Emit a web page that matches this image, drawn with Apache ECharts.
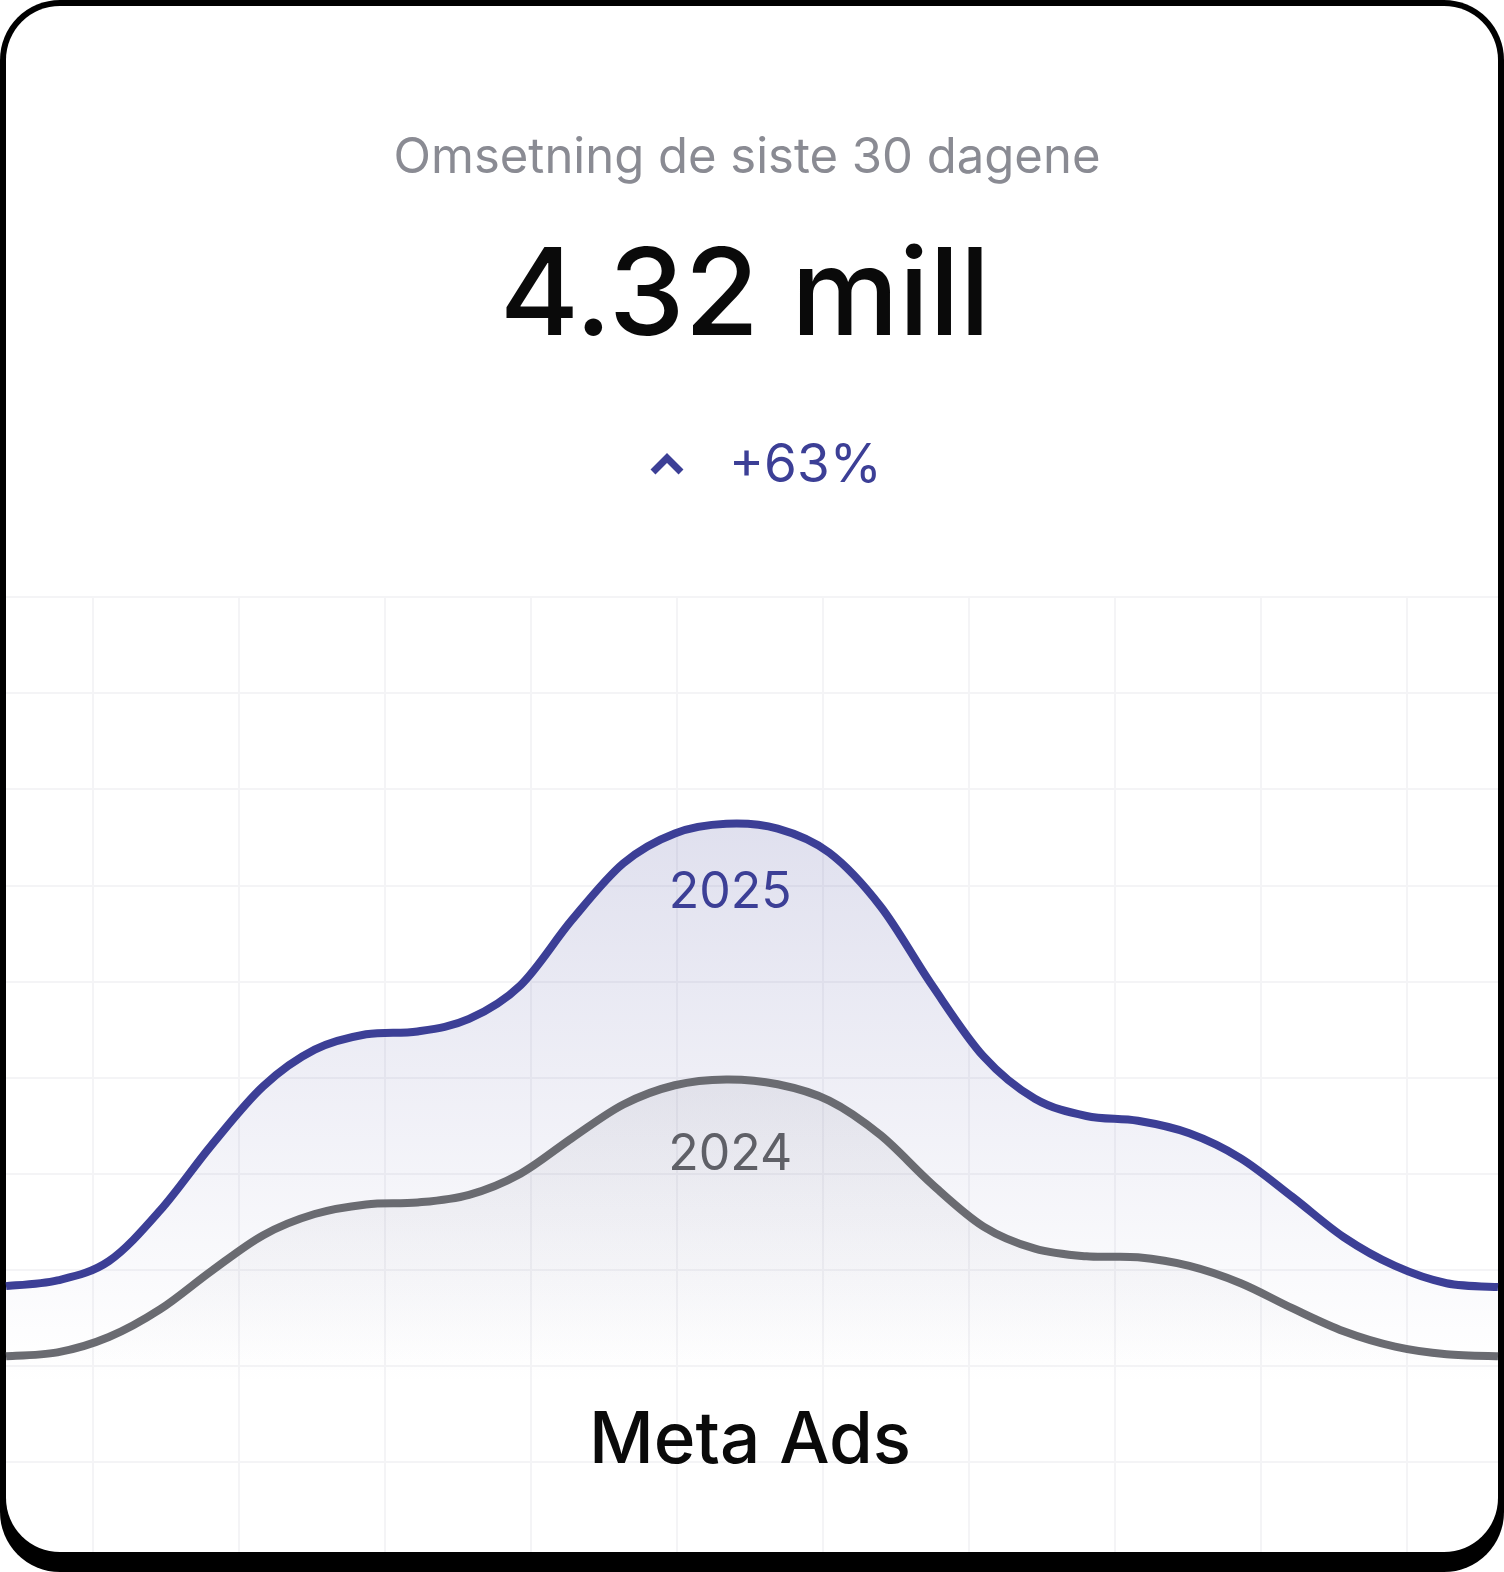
<!DOCTYPE html>
<html>
<head>
<meta charset="utf-8">
<script src="https://cdn.jsdelivr.net/npm/echarts@6/dist/echarts.min.js"></script>
<style>
  html, body { margin: 0; padding: 0; background: #fff; }
  #chart { width: 1504px; height: 1572px; }
</style>
</head>
<body>
<div id="chart"></div>
<script>
// last 30 days, one point per day
const days = Array.from({ length: 30 }, (_, i) => String(i + 1));

// revenue index per day
const sales2025 = [28.3, 28.9, 30.9, 36.2, 43.0, 49.1, 52.9, 54.5, 54.8, 56.1,
                   59.6, 66.4, 72.3, 75.4, 76.4, 75.9, 73.4, 67.8, 59.6, 52.2,
                   47.8, 46.0, 45.5, 44.2, 41.6, 37.6, 33.4, 30.4, 28.6, 28.2];
const sales2024 = [21.0, 21.4, 23.0, 25.9, 29.9, 33.6, 35.8, 36.8, 37.0, 37.8,
                   40.0, 43.7, 47.2, 49.2, 49.8, 49.3, 47.6, 44.0, 38.9, 34.5,
                   32.2, 31.4, 31.3, 30.4, 28.6, 26.0, 23.6, 22.0, 21.2, 21.0];

const seriesNames = ['2025', '2024'];
const peakIndex = 14;

const title = 'Omsetning de siste 30 dagene';
const total = '4.32 mill';
const change = '+63%';
const channel = 'Meta Ads';

const BLUE = '#3c3f96';
const GREY = '#6a6b71';
const FONT = 'Inter';
const Y_MIN = 10;

const chart = echarts.init(document.getElementById('chart'));

const hidden = { axisLine: { show: false }, axisTick: { show: false }, axisLabel: { show: false } };
const gridLine = { show: true, lineStyle: { color: '#f4f4f6', width: 2 } };

// catmull-rom through the projected points -> svg path
function curvePath(pts) {
  let d = 'M' + pts[0][0] + ',' + pts[0][1];
  for (let i = 0; i < pts.length - 1; i++) {
    const p0 = pts[Math.max(i - 1, 0)];
    const p1 = pts[i];
    const p2 = pts[i + 1];
    const p3 = pts[Math.min(i + 2, pts.length - 1)];
    const c1x = p1[0] + (p2[0] - p0[0]) / 6, c1y = p1[1] + (p2[1] - p0[1]) / 6;
    const c2x = p2[0] - (p3[0] - p1[0]) / 6, c2y = p2[1] - (p3[1] - p1[1]) / 6;
    d += ' C' + c1x + ',' + c1y + ' ' + c2x + ',' + c2y + ' ' + p2[0] + ',' + p2[1];
  }
  return d;
}

function curveSeries(name, values, color, labelColor, rgb, fillAlpha, fadeAt, labelDy, z) {
  return {
    name, type: 'custom', z,
    xAxisIndex: 0, yAxisIndex: 0,
    data: values.map((v, i) => [i, v]),
    encode: { x: 0, y: 1 },
    renderItem(params, api) {
      if (params.dataIndex !== 0) return;
      const pts = values.map((v, i) => api.coord([i, v]));
      const line = curvePath(pts);
      const base = api.coord([0, Y_MIN])[1];
      const last = pts[pts.length - 1];
      const area = line + ' L' + last[0] + ',' + base + ' L' + pts[0][0] + ',' + base + ' Z';
      const peak = pts[peakIndex];
      return {
        type: 'group',
        children: [
          { type: 'path', shape: { pathData: area },
            style: { fill: new echarts.graphic.LinearGradient(0, 0, 0, 1, [
              { offset: 0, color: 'rgba(' + rgb + ',' + fillAlpha + ')' },
              { offset: fadeAt, color: 'rgba(' + rgb + ',0)' }
            ]) } },
          { type: 'path', shape: { pathData: line },
            style: { fill: null, stroke: color, lineWidth: 8 } },
          { type: 'text', x: peak[0] + 4, y: peak[1] + labelDy,
            style: { text: name, fill: labelColor, font: '400 50px ' + FONT,
                     textAlign: 'center', textVerticalAlign: 'middle' } }
        ]
      };
    }
  };
}

const option = {
  animation: false,
  grid: [
    { left: 6, right: 6, top: 597, bottom: 110 },   // curves + horizontal lines
    { left: 93, right: 97, top: 597, bottom: 20 }   // vertical lines only
  ],
  xAxis: [
    { gridIndex: 0, type: 'category', data: days, boundaryGap: false, ...hidden, splitLine: { show: false } },
    { gridIndex: 1, type: 'value', min: 0, max: 9, interval: 1, ...hidden, splitLine: gridLine }
  ],
  yAxis: [
    { gridIndex: 0, type: 'value', min: Y_MIN, max: 100, interval: 10, ...hidden, splitLine: gridLine },
    { gridIndex: 1, type: 'value', min: 0, max: 1, ...hidden, splitLine: { show: false } }
  ],
  series: [
    curveSeries(seriesNames[0], sales2025, BLUE, BLUE, '60,62,150', 0.16, 0.85, 69, 3),
    curveSeries(seriesNames[1], sales2024, GREY, '#5f6067', '90,90,115', 0.09, 0.8, 75, 4)
  ],
  graphic: [
    // card frame
    { type: 'rect', z: -100, silent: true,
      shape: { x: 0, y: 0, width: 1504, height: 1572, r: 60 }, style: { fill: '#000' } },
    { type: 'rect', z: -99, silent: true,
      shape: { x: 6, y: 6, width: 1492, height: 1546, r: 54 }, style: { fill: '#fff' } },
    // headline texts
    { type: 'text', x: 747, y: 158, z: 10,
      style: { text: title, fill: '#8a8b93', font: '400 49px ' + FONT, textAlign: 'center', textVerticalAlign: 'middle' } },
    { type: 'text', x: 745, y: 299, z: 10,
      style: { text: total, fill: '#0a0a0a', font: '500 121px ' + FONT, textAlign: 'center', textVerticalAlign: 'middle' } },
    { type: 'polyline', z: 10,
      shape: { points: [[653, 472], [667, 458], [681, 472]] },
      style: { stroke: BLUE, lineWidth: 7, fill: null } },
    { type: 'text', x: 729, y: 466, z: 10,
      style: { text: change, fill: BLUE, font: '400 53px ' + FONT, textAlign: 'left', textVerticalAlign: 'middle' } },
    { type: 'text', x: 750, y: 1442, z: 10,
      style: { text: channel, fill: '#0a0a0a', font: '500 71px ' + FONT, textAlign: 'center', textVerticalAlign: 'middle' } }
  ]
};

chart.setOption(option);
window.addEventListener('resize', () => chart.resize());
</script>
</body>
</html>
